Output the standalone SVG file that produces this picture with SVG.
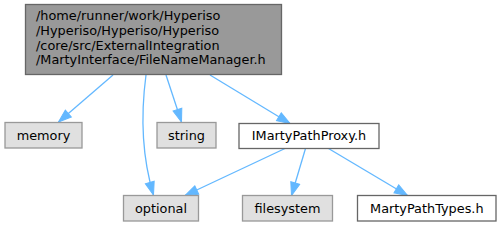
<svg xmlns="http://www.w3.org/2000/svg" width="501" height="227" viewBox="0 0 501 227">
<style>
text{font-family:"DejaVu Sans",sans-serif;font-size:12.85px;fill:#000}
.main{fill:#999999;stroke:#666666;stroke-width:1.3}
.sys{fill:#e0e0e0;stroke:#999999;stroke-width:1.3}
.hdr{fill:#ffffff;stroke:#666666;stroke-width:1.3}
.edge{fill:none;stroke:#63b8ff;stroke-width:1.3}
.c{text-anchor:middle}
</style>
<defs>
<marker id="arr" markerUnits="userSpaceOnUse" markerWidth="16" markerHeight="12" viewBox="-1 -6 16 12" refX="13" refY="0" orient="auto">
<path d="M0,-4.6 L13,0 L0,4.6 z" fill="#63b8ff" stroke="#63b8ff" stroke-width="1"/>
</marker>
</defs>
<g id="edges">
<path class="edge" d="M113,75 L58.5,122" marker-end="url(#arr)"/>
<path class="edge" d="M146,75 C142,105 140,150 153.5,195" marker-end="url(#arr)"/>
<path class="edge" d="M166,75 L181.5,122" marker-end="url(#arr)"/>
<path class="edge" d="M210,75 L290,123.5" marker-end="url(#arr)"/>
<path class="edge" d="M285,148.5 L185,195.5" marker-end="url(#arr)"/>
<path class="edge" d="M305.5,148.5 L291.5,195.5" marker-end="url(#arr)"/>
<path class="edge" d="M328.5,148.5 L407.5,195.5" marker-end="url(#arr)"/>
</g>
<g id="node-main">
<rect class="main" x="25.5" y="4.5" width="256" height="70"/>
<text x="36" y="19.5">/home/runner/work/Hyperiso</text>
<text x="36" y="34.5">/Hyperiso/Hyperiso/Hyperiso</text>
<text x="36" y="49.5">/core/src/ExternalIntegration</text>
<text x="36" y="64.3">/MartyInterface/FileNameManager.h</text>
</g>
<g id="node-memory">
<rect class="sys" x="5" y="122.5" width="77" height="25.5"/>
<text class="c" x="43.5" y="139.5">memory</text>
</g>
<g id="node-string">
<rect class="sys" x="157" y="122.5" width="59" height="25.5"/>
<text class="c" x="186.5" y="139.5">string</text>
</g>
<g id="node-imarty">
<rect class="hdr" x="239" y="123.5" width="140" height="25"/>
<text class="c" x="309" y="140">IMartyPathProxy.h</text>
</g>
<g id="node-optional">
<rect class="sys" x="123.5" y="195.5" width="75" height="25.5"/>
<text class="c" x="161" y="212.5">optional</text>
</g>
<g id="node-filesystem">
<rect class="sys" x="242.5" y="195.5" width="90" height="25.5"/>
<text class="c" x="287.5" y="212.5">filesystem</text>
</g>
<g id="node-martypathtypes">
<rect class="hdr" x="357.5" y="195.5" width="138.5" height="25.5"/>
<text class="c" x="426.8" y="212.5">MartyPathTypes.h</text>
</g>
</svg>
